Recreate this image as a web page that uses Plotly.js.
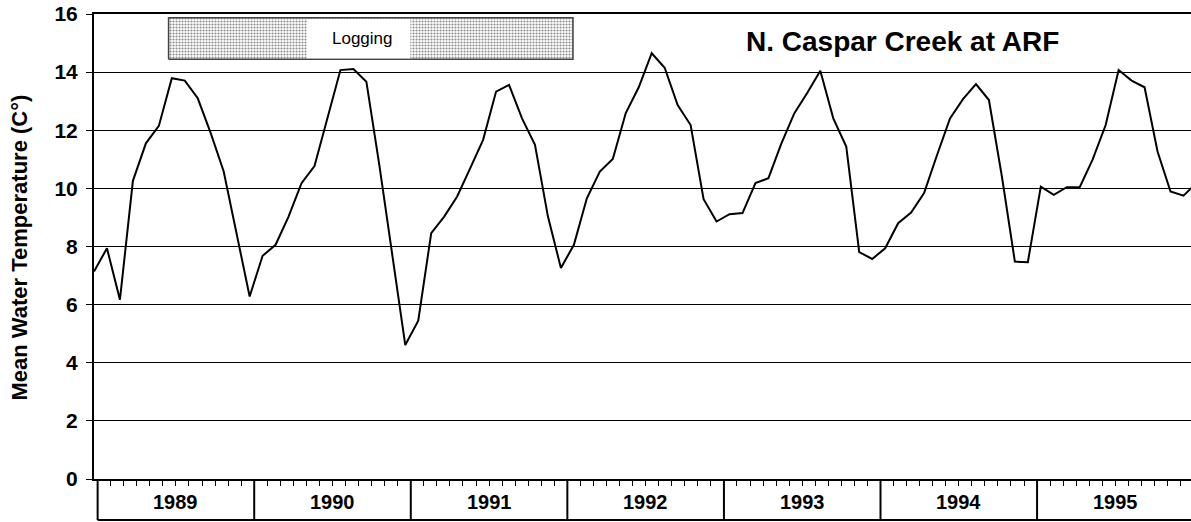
<!DOCTYPE html>
<html>
<head>
<meta charset="utf-8">
<script src="https://cdn.plot.ly/plotly-3.0.1.min.js"></script>
<style>html,body{margin:0;padding:0;background:#fff;}#chart{width:1191px;height:522px;}</style>
</head>
<body>
<div id="chart"></div>
<script>
// Monthly mean water temperature (°C), N. Caspar Creek at ARF, starting Jan 1989
const temps = [
  7.14, 7.94, 6.17, 10.26, 11.55, 12.15, 13.79, 13.71, 13.10, 11.90, 10.58, 8.40,
  6.28, 7.68, 8.06, 9.03, 10.18, 10.77, 12.40, 14.07, 14.11, 13.67, 10.80, 7.70,
  4.61, 5.45, 8.46, 9.03, 9.72, 10.69, 11.67, 13.33, 13.56, 12.41, 11.50, 9.03,
  7.26, 8.06, 9.66, 10.58, 11.01, 12.59, 13.48, 14.65, 14.15, 12.87, 12.18, 9.63,
  8.86, 9.11, 9.15, 10.18, 10.35, 11.55, 12.59, 13.29, 14.05, 12.41, 11.44, 7.81,
  7.57, 7.94, 8.80, 9.17, 9.84, 11.15, 12.41, 13.07, 13.59, 13.04, 10.41, 7.48,
  7.46, 10.06, 9.78, 10.04, 10.04, 11.00, 12.18, 14.07, 13.71, 13.48, 11.27, 9.89,
  9.75, 10.18
];
const years = ['1989', '1990', '1991', '1992', '1993', '1994', '1995'];
const yTicks = [0, 2, 4, 6, 8, 10, 12, 14, 16];
const loggingPeriod = [5.75, 36.93];   // months since Jan 1989
const titleText = 'N. Caspar Creek at ARF';
const yTitleText = 'Mean Water Temperature (C°)';
const loggingText = 'Logging';

// layout constants
const X_RANGE = [0, 84.58];
const MONTH0 = 0.28, MONTH_W = 1.006;
const months = temps.map((_, i) => i);
const yearBounds = years.map((_, i) => MONTH0 + 12 * MONTH_W * i).concat([MONTH0 + 12 * MONTH_W * years.length]);
const FONT = 'Liberation Sans, Arial, Helvetica, sans-serif';
const BOX_Y = [14.44, 15.87];
const BOX_H = -41 / 465;

const traces = [
  {
    x: months, y: temps, type: 'scatter', mode: 'lines',
    line: {color: '#000', width: 2}, hoverinfo: 'skip', showlegend: false
  },
  {
    x: [loggingPeriod[0], loggingPeriod[1], loggingPeriod[1], loggingPeriod[0], loggingPeriod[0]],
    y: [BOX_Y[0], BOX_Y[0], BOX_Y[1], BOX_Y[1], BOX_Y[0]],
    type: 'scatter', mode: 'lines', fill: 'toself',
    fillcolor: '#d6d6d6',
    fillpattern: {shape: '.', size: 3, solidity: 0.4, fgcolor: '#8c8c8c', bgcolor: '#ffffff'},
    line: {color: '#444', width: 1.5}, hoverinfo: 'skip', showlegend: false
  }
];

const shapes = [];
// white label area inside logging box
shapes.push({type: 'rect', xref: 'x', yref: 'y', x0: 16.42, x1: 24.39, y0: BOX_Y[0] + 0.04, y1: BOX_Y[1] - 0.04,
  fillcolor: '#fff', line: {width: 0}, layer: 'above'});
// year box dividers
yearBounds.forEach(b => {
  if (b <= X_RANGE[1]) {
    shapes.push({type: 'line', xref: 'x', yref: 'paper', x0: b, x1: b, y0: 0, y1: BOX_H,
      line: {color: '#000', width: 2}});
  }
});
shapes.push({type: 'line', xref: 'x', yref: 'paper', x0: yearBounds[0], x1: X_RANGE[1], y0: BOX_H, y1: BOX_H,
  line: {color: '#000', width: 2}});

const annotations = [];
years.forEach((yr, i) => {
  const c = (yearBounds[i] + Math.min(yearBounds[i + 1], X_RANGE[1] + 0.3)) / 2;
  annotations.push({x: c, xref: 'x', y: (479 - 501.5) / 465, yref: 'paper', text: yr, showarrow: false,
    xanchor: 'center', yanchor: 'middle', font: {family: FONT, size: 20, weight: 'bold', color: '#000'}});
});
annotations.push({x: (902.5 - 94) / 1097, xref: 'paper', y: (479 - 41) / 465, yref: 'paper', text: titleText,
  showarrow: false, xanchor: 'center', yanchor: 'middle', font: {family: FONT, size: 28, weight: 'bold', color: '#000'}});
annotations.push({x: (19 - 94) / 1097, xref: 'paper', y: (479 - 247.5) / 465, yref: 'paper', text: yTitleText,
  textangle: -90, showarrow: false, xanchor: 'center', yanchor: 'middle', font: {family: FONT, size: 22, weight: 'bold', color: '#000'}});
annotations.push({x: 20.71, xref: 'x', y: 15.17, yref: 'y', text: loggingText, showarrow: false,
  xanchor: 'center', yanchor: 'middle', font: {family: FONT, size: 17, color: '#000'}});

const layout = {
  width: 1191, height: 522,
  margin: {l: 94, r: 0, t: 14, b: 43, pad: 0},
  paper_bgcolor: '#fff', plot_bgcolor: '#fff',
  showlegend: false,
  xaxis: {
    range: X_RANGE, showgrid: false, zeroline: false,
    showline: true, mirror: true, linecolor: '#000', linewidth: 2,
    ticks: 'outside', tick0: MONTH0, dtick: MONTH_W, ticklen: 5, tickwidth: 1, tickcolor: '#000',
    showticklabels: false, fixedrange: true
  },
  yaxis: {
    range: [0, 16], tickvals: yTicks, ticktext: yTicks.map(String),
    showgrid: true, gridcolor: '#000', gridwidth: 1, zeroline: false,
    showline: true, linecolor: '#000', linewidth: 2,
    ticks: 'outside', ticklen: 6, tickwidth: 1, tickcolor: '#000',
    ticklabelstandoff: 4,
    tickfont: {family: FONT, size: 21, weight: 'bold', color: '#000'},
    fixedrange: true
  },
  shapes: shapes,
  annotations: annotations
};

Plotly.newPlot('chart', traces, layout, {displayModeBar: false, staticPlot: true});
</script>
</body>
</html>
